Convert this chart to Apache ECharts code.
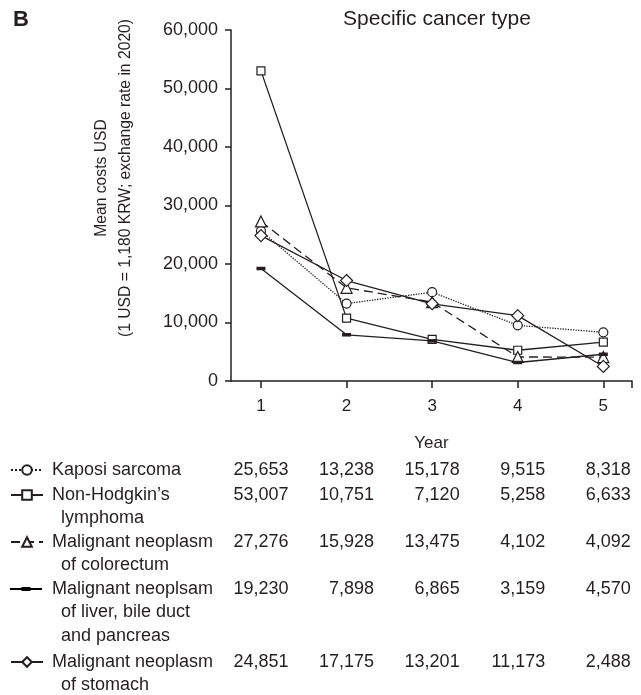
<!DOCTYPE html>
<html>
<head>
<meta charset="utf-8">
<script src="https://cdn.jsdelivr.net/npm/echarts@6/dist/echarts.min.js"></script>
<style>
  html, body { margin: 0; padding: 0; background: #fff; }
  #chart { width: 641px; height: 695px; }
</style>
</head>
<body>
<div id="chart"></div>
<script>
// Follow-up years and mean cost per patient (USD) by cancer type
const years = [1, 2, 3, 4, 5];
const kaposi = [25653, 13238, 15178, 9515, 8318];
const nonHodgkin = [53007, 10751, 7120, 5258, 6633];
const colorectum = [27276, 15928, 13475, 4102, 4092];
const liver = [19230, 7898, 6865, 3159, 4570];
const stomach = [24851, 17175, 13201, 11173, 2488];

const seriesNames = [
  'Kaposi sarcoma',
  'Non-Hodgkin’s lymphoma',
  'Malignant neoplasm of colorectum',
  'Malignant neoplsam of liver, bile duct and pancreas',
  'Malignant neoplasm of stomach'
];
// How each name wraps in the table below the plot
const nameLines = [
  ['Kaposi sarcoma'],
  ['Non-Hodgkin’s', 'lymphoma'],
  ['Malignant neoplasm', 'of colorectum'],
  ['Malignant neoplsam', 'of liver, bile duct', 'and pancreas'],
  ['Malignant neoplasm', 'of stomach']
];
const yTicks = [0, 10000, 20000, 30000, 40000, 50000, 60000];

const values = [kaposi, nonHodgkin, colorectum, liver, stomach];
const INK = '#231f20';
const FONT = 'Liberation Sans, Arial, Helvetica, sans-serif';

// Legend key for the liver series: a solid line with a small flat bar in the middle
// (the two degenerate sub-paths only fix the icon's bounding box to 32 x 12)
const barKey = 'path://M0,0L0.01,0Z M32,12L31.99,12Z M0,4.9H32V7.1H0Z M11.5,3.9H20.5V8.1H11.5Z';

const markers = [
  { symbol: 'circle', size: 9, line: 'dotted', filled: false },
  { symbol: 'rect', size: 8, line: 'solid', filled: false },
  { symbol: 'triangle', size: 11, line: [9, 5], filled: false },
  { symbol: 'rect', size: [9, 3.5], line: 'solid', filled: true, key: barKey },
  { symbol: 'diamond', size: 12, line: 'solid', filled: false }
];

const chart = echarts.init(document.getElementById('chart'), null, { renderer: 'canvas' });

const series = values.map((vals, i) => ({
  name: seriesNames[i],
  type: 'line',
  data: vals.map((v, j) => [years[j], v]),
  symbol: markers[i].symbol,
  symbolSize: markers[i].size,
  showAllSymbol: true,
  z: 2 + i,
  lineStyle: { color: INK, width: 1.3, type: markers[i].line },
  itemStyle: markers[i].filled
    ? { color: INK, borderWidth: 0 }
    : { color: '#fff', borderColor: INK, borderWidth: 1.2 },
  emphasis: { disabled: true },
  animation: false
}));

// Row centres of the table (first line of each entry)
const rowY = [470, 495, 542, 589, 662];
const LINE_H = 23.5;

const legends = seriesNames.map((name, i) => ({
  show: true,
  data: [markers[i].key ? { name: name, icon: markers[i].key, itemStyle: { color: '#000', opacity: 1 } } : name],
  left: 10,
  top: rowY[i] - 12,
  padding: 0,
  itemWidth: 32,
  itemHeight: 12,
  selectedMode: false,
  formatter: () => nameLines[i][0],
  textStyle: {
    color: INK, fontSize: 18, fontFamily: FONT,
    lineHeight: 24, padding: [0, 0, 0, markers[i].key ? 5 : 4]
  }
}));

chart.setOption({
  animation: false,
  backgroundColor: '#fff',
  textStyle: { fontFamily: FONT },
  title: {
    text: 'Specific cancer type',
    left: 432, top: 4, textAlign: 'center',
    textStyle: { fontSize: 21, fontWeight: 'normal', color: INK, fontFamily: FONT }
  },
  grid: { left: 231, right: 9, top: 30, bottom: 314, containLabel: false },
  xAxis: {
    type: 'value',
    min: 0.65, max: 5.335,
    name: 'Year',
    nameLocation: 'middle',
    nameGap: 54,
    nameTextStyle: { fontSize: 17, color: INK, fontFamily: FONT },
    splitLine: { show: false },
    axisLine: { lineStyle: { color: INK, width: 1.5 } },
    axisTick: { length: 7, lineStyle: { color: INK, width: 1.5 }, customValues: [1, 2, 3, 4, 5, 5.335] },
    axisLabel: { margin: 17, fontSize: 17, color: INK, fontFamily: FONT, customValues: years }
  },
  yAxis: {
    type: 'value',
    min: yTicks[0], max: yTicks[yTicks.length - 1], interval: yTicks[1] - yTicks[0],
    splitLine: { show: false },
    axisLine: { show: true, lineStyle: { color: INK, width: 1.5 } },
    axisTick: { show: true, length: 6, lineStyle: { color: INK, width: 1.5 } },
    axisLabel: {
      margin: 13, fontSize: 18, color: INK, fontFamily: FONT,
      formatter: v => v.toLocaleString('en-US')
    }
  },
  legend: legends,
  series: series
});

// Table: wrapped name lines and yearly values, columns aligned to the year axis
const graphics = [
  {
    type: 'text', left: 13, top: 9,
    style: { text: 'B', font: 'bold 22px ' + FONT, fill: INK }
  },
  {
    type: 'text', x: 114, y: 178, rotation: Math.PI / 2,
    style: {
      text: 'Mean costs USD\n(1 USD = 1,180 KRW; exchange rate in 2020)',
      font: '15.7px ' + FONT, fill: INK, align: 'center', verticalAlign: 'middle', lineHeight: 24
    }
  }
];
nameLines.forEach((lines, i) => {
  lines.slice(1).forEach((txt, k) => {
    graphics.push({
      type: 'text', x: 61, y: rowY[i] + (k + 1) * LINE_H,
      style: { text: txt, font: '18px ' + FONT, fill: INK, align: 'left', verticalAlign: 'middle' }
    });
  });
  values[i].forEach((v, j) => {
    const px = chart.convertToPixel({ xAxisIndex: 0 }, years[j]);
    graphics.push({
      type: 'text', x: px + 27.5, y: rowY[i],
      style: { text: v.toLocaleString('en-US'), font: '18px ' + FONT, fill: INK, align: 'right', verticalAlign: 'middle' }
    });
  });
});
chart.setOption({ graphic: graphics });
</script>
</body>
</html>
